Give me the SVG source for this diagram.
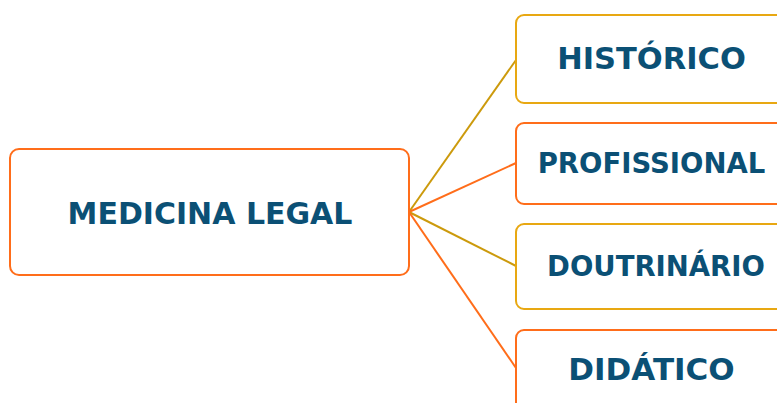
<svg xmlns="http://www.w3.org/2000/svg" width="777" height="403" viewBox="0 0 777 403">
<style>
.box{fill:#fff;stroke-width:2}
.or{stroke:#FF6D1A}
.gd{stroke:#E8A812}
.t{font-family:"DejaVu Sans",Verdana,sans-serif;font-weight:bold;fill:#0B5075;text-anchor:middle}
.l{fill:none;stroke-width:2}
.lo{stroke:#FF6D1A}
.lg{stroke:#CC9A0C}
</style>
<rect width="777" height="403" fill="#fff"/>
<g id="connectors">
<line class="l lg" x1="409" y1="212" x2="516" y2="60"/>
<line class="l lo" x1="409" y1="212" x2="516" y2="163"/>
<line class="l lg" x1="409" y1="212" x2="516" y2="266"/>
<line class="l lo" x1="409" y1="212" x2="516" y2="368"/>
</g>
<g id="medicina-legal">
<rect class="box or" x="10" y="149" width="399" height="126" rx="9"/>
<text class="t" x="210" y="223.5" font-size="30">MEDICINA LEGAL</text>
</g>
<g id="historico">
<rect class="box gd" x="516" y="15" width="280" height="88" rx="8"/>
<text class="t" x="651.5" y="68.5" font-size="30.5">HISTÓRICO</text>
</g>
<g id="profissional">
<rect class="box or" x="516" y="123" width="280" height="81" rx="8"/>
<text class="t" x="651.5" y="173" font-size="27.5">PROFISSIONAL</text>
</g>
<g id="doutrinario">
<rect class="box gd" x="516" y="224" width="280" height="85" rx="8"/>
<text class="t" x="656" y="276" font-size="27.5">DOUTRINÁRIO</text>
</g>
<g id="didatico">
<rect class="box or" x="516" y="330" width="280" height="90" rx="8"/>
<text class="t" x="651.5" y="380" font-size="31">DIDÁTICO</text>
</g>
</svg>
